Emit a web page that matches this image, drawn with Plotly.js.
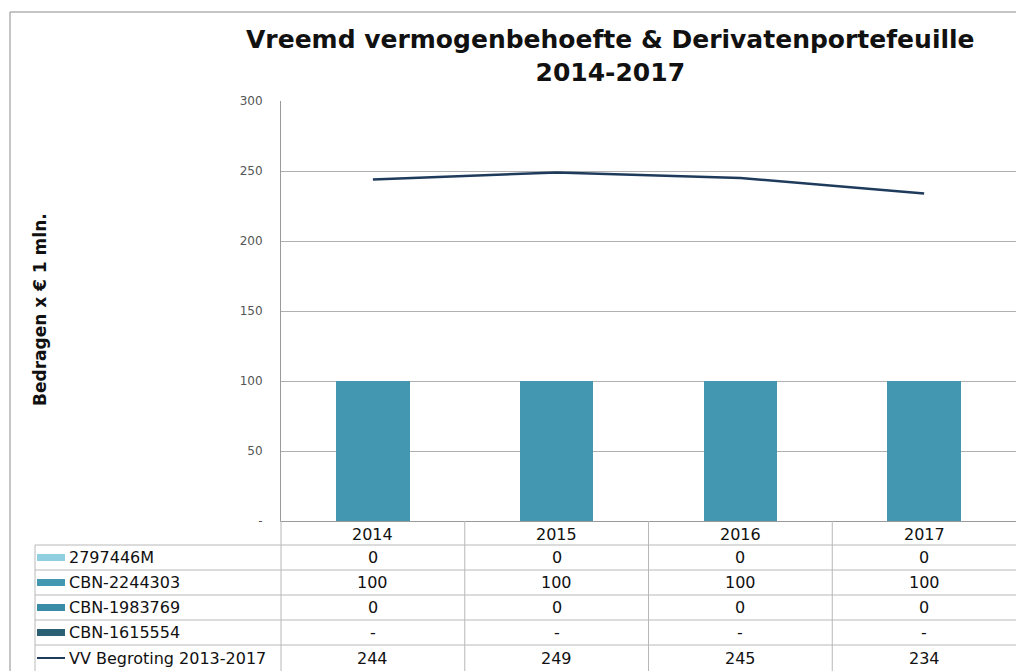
<!DOCTYPE html>
<html>
<head>
<meta charset="utf-8">
<script src="https://cdn.plot.ly/plotly-3.0.1.min.js"></script>
<style>html,body{margin:0;padding:0;background:#fff;}#chart{width:1016px;height:671px;}</style>
</head>
<body>
<div id="chart"></div>
<script>
// ---- data ----
const years = ['2014', '2015', '2016', '2017'];
const s2797446M = [0, 0, 0, 0];
const cbn2244303 = [100, 100, 100, 100];
const cbn1983769 = [0, 0, 0, 0];
const cbn1615554 = [null, null, null, null];
const vvBegroting = [244, 249, 245, 234];
const seriesNames = ['2797446M', 'CBN-2244303', 'CBN-1983769', 'CBN-1615554', 'VV Begroting 2013-2017'];
const yTickVals = [0, 50, 100, 150, 200, 250, 300];
const yTickText = ['-', '50', '100', '150', '200', '250', '300'];

// ---- geometry helpers (pixel -> paper) ----
const W = 1016, H = 671, L = 281, T = 101, PW = 735, PH = 420;
const px = p => (p - L) / PW;
const py = p => (T + PH - p) / PH;

const barColors = ['#8fcfe0', '#4497b0', '#3a8ca6', '#2b5f73'];
const lineColor = '#1f3b5c';
const font = 'Verdana, "DejaVu Sans", sans-serif';

const barSeries = [s2797446M, cbn2244303, cbn1983769, cbn1615554];
const traces = barSeries.map((vals, i) => ({
  type: 'bar', x: years, y: vals, name: seriesNames[i],
  marker: {color: barColors[i]}, width: 0.4, showlegend: false
}));
traces.push({
  type: 'scatter', mode: 'lines', x: years, y: vvBegroting, name: seriesNames[4],
  line: {color: lineColor, width: 2.5}, showlegend: false
});

const shapes = [];
const annotations = [];
const gridC = '#b8b8b8';
// outer chart border
shapes.push({type: 'line', xref: 'paper', yref: 'paper', x0: px(10), x1: px(10), y0: py(12), y1: py(680), line: {color: '#8c8c8c', width: 1}});
shapes.push({type: 'line', xref: 'paper', yref: 'paper', x0: px(10), x1: px(1030), y0: py(12), y1: py(12), line: {color: '#8c8c8c', width: 1}});

// table horizontal lines
const rowLines = [545, 570, 595, 620, 645];
rowLines.forEach(r => shapes.push({type: 'line', xref: 'paper', yref: 'paper', x0: px(35), x1: px(1030), y0: py(r), y1: py(r), line: {color: gridC, width: 1}}));
// table vertical lines
shapes.push({type: 'line', xref: 'paper', yref: 'paper', x0: px(35), x1: px(35), y0: py(545), y1: py(680), line: {color: gridC, width: 1}});
shapes.push({type: 'line', xref: 'paper', yref: 'paper', x0: 0, x1: 0, y0: py(521), y1: py(680), line: {color: gridC, width: 1}});
for (let i = 0; i < years.length - 1; i++) {
  shapes.push({type: 'line', xref: 'x', yref: 'paper', x0: i + 0.5, x1: i + 0.5, y0: py(521), y1: py(680), line: {color: gridC, width: 1}});
}

// header row (years)
years.forEach((yr, i) => annotations.push({xref: 'x', yref: 'paper', x: i, y: py(534), text: yr, showarrow: false, xanchor: 'center', yanchor: 'middle', font: {family: font, size: 16, color: '#111'}}));

// data rows
const rowCenters = [557.5, 582.5, 607.5, 632.5, 658];
const allSeries = [s2797446M, cbn2244303, cbn1983769, cbn1615554, vvBegroting];
allSeries.forEach((vals, r) => {
  const cy = rowCenters[r];
  annotations.push({xref: 'paper', yref: 'paper', x: px(67), y: py(cy), text: seriesNames[r], showarrow: false, xanchor: 'left', yanchor: 'middle', font: {family: font, size: 16, color: '#111'}});
  vals.forEach((v, i) => annotations.push({xref: 'x', yref: 'paper', x: i, y: py(cy), text: v === null ? '-' : String(Math.round(v)), showarrow: false, xanchor: 'center', yanchor: 'middle', font: {family: font, size: 16, color: '#111'}}));
  if (r < 4) {
    shapes.push({type: 'rect', xref: 'paper', yref: 'paper', x0: px(37), x1: px(65), y0: py(cy - 3.5), y1: py(cy + 3.5), fillcolor: barColors[r], line: {width: 0}});
  } else {
    shapes.push({type: 'line', xref: 'paper', yref: 'paper', x0: px(37), x1: px(65), y0: py(cy), y1: py(cy), line: {color: lineColor, width: 2}});
  }
});

// title
annotations.push({xref: 'paper', yref: 'paper', x: px(610), y: py(23), yanchor: 'top', xanchor: 'center', showarrow: false,
  text: '<b>Vreemd vermogenbehoefte &amp; Derivatenportefeuille<br>2014-2017</b>',
  font: {family: font, size: 25, color: '#111'}});
// y-axis title
annotations.push({xref: 'paper', yref: 'paper', x: px(40), y: py(310), textangle: -90, showarrow: false, xanchor: 'center', yanchor: 'middle',
  text: '<b>Bedragen x € 1 mln.</b>', font: {family: font, size: 17, color: '#111'}});

const layout = {
  width: W, height: H,
  margin: {l: L, r: W - L - PW, t: T, b: H - T - PH, pad: 0},
  paper_bgcolor: '#fff', plot_bgcolor: '#fff',
  barmode: 'stack', showlegend: false,
  xaxis: {type: 'category', range: [-0.5, 3.5], showticklabels: false, ticks: '', showgrid: false, showline: true, linecolor: '#9a9a9a', linewidth: 1, zeroline: false, fixedrange: true},
  yaxis: {range: [0, 300], tickvals: yTickVals, ticktext: yTickText, showgrid: true, gridcolor: '#b0b0b0', gridwidth: 1,
    showline: true, linecolor: '#9a9a9a', linewidth: 1, zeroline: false, ticks: '', ticklabelstandoff: 15,
    tickfont: {family: font, size: 12, color: '#555'}, fixedrange: true},
  shapes: shapes, annotations: annotations
};

Plotly.newPlot('chart', traces, layout, {displayModeBar: false, staticPlot: true});
</script>
</body>
</html>
